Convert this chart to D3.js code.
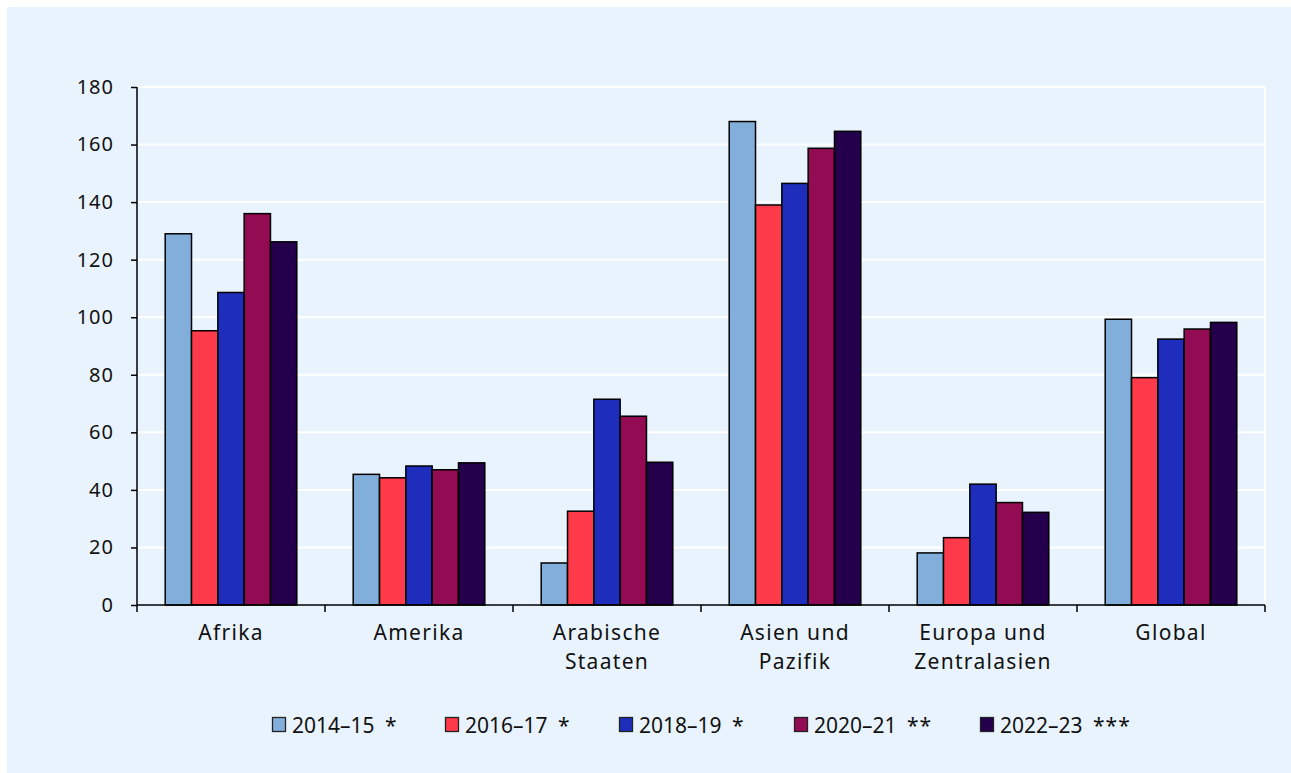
<!DOCTYPE html>
<html>
<head>
<meta charset="utf-8">
<script src="https://cdn.jsdelivr.net/npm/d3@7"></script>
<style>
  html, body { margin: 0; padding: 0; background: #ffffff; }
  svg { display: block; }
  text { font-family: "Noto Sans", "Open Sans", sans-serif; fill: #111; }
</style>
</head>
<body>
<svg id="chart" width="1291" height="773"></svg>
<script>
const categories = ["Afrika", "Amerika", "Arabische\nStaaten", "Asien und\nPazifik", "Europa und\nZentralasien", "Global"];
const seriesNames = ["2014–15", "2016–17", "2018–19", "2020–21", "2022–23"];
const seriesMarks = ["*", "*", "*", "**", "***"];
const s2014 = [129, 45.4, 14.6, 168, 18.1, 99.3];
const s2016 = [95.3, 44.2, 32.6, 139, 23.4, 79];
const s2018 = [108.6, 48.3, 71.5, 146.5, 42, 92.4];
const s2020 = [136, 47, 65.6, 158.7, 35.6, 95.9];
const s2022 = [126.2, 49.4, 49.6, 164.6, 32.2, 98.2];
const yTicks = [0, 20, 40, 60, 80, 100, 120, 140, 160, 180];
const colors = ["#82aedb", "#ff3b4b", "#1f2dbd", "#930b52", "#24004c"];

const series = [s2014, s2016, s2018, s2020, s2022];

(function () {
const svg = d3.select("#chart");
svg.append("rect").attr("x", 7).attr("y", 7).attr("width", 1284).attr("height", 766).attr("fill", "#e9f3fd");

const pLeft = 137, pRight = 1265, pTop = 87, pBottom = 605;
const x = d3.scaleBand().domain(categories).range([pLeft, pRight]).paddingInner(0.3).paddingOuter(0.15);
const x1 = d3.scaleBand().domain(d3.range(series.length)).range([0, x.bandwidth()]);
const y = d3.scaleLinear().domain([0, 180]).range([pBottom, pTop]);

// grid
svg.append("g").selectAll("line").data(yTicks.filter(d => d > 0)).join("line")
  .attr("x1", pLeft).attr("x2", pRight)
  .attr("y1", d => y(d)).attr("y2", d => y(d))
  .attr("stroke", "#ffffff").attr("stroke-width", 2);
svg.append("line").attr("x1", pRight).attr("x2", pRight).attr("y1", pTop).attr("y2", pBottom)
  .attr("stroke", "#ffffff").attr("stroke-width", 2);

// bars
categories.forEach((c, ci) => {
  series.forEach((s, si) => {
    svg.append("rect")
      .attr("x", x(c) + x1(si))
      .attr("y", y(s[ci]))
      .attr("width", x1.bandwidth())
      .attr("height", y(0) - y(s[ci]))
      .attr("fill", colors[si])
      .attr("stroke", "#000")
      .attr("stroke-width", 1.5);
  });
});

// y axis
const yAxis = svg.append("g").attr("transform", `translate(${pLeft},0)`)
  .call(d3.axisLeft(y).tickValues(yTicks).tickSize(6).tickPadding(17));
yAxis.selectAll("text").style("font-size", "20px").style("letter-spacing", "1px")
  .style("font-family", "'Noto Sans', sans-serif").attr("fill", "#111");
yAxis.selectAll("line, path").attr("stroke", "#000").attr("stroke-width", 1.5);
yAxis.select("path").attr("d", `M0,${pTop}V${pBottom}`);

// x axis baseline and ticks at boundaries
svg.append("line").attr("x1", pLeft).attr("x2", pRight).attr("y1", pBottom).attr("y2", pBottom)
  .attr("stroke", "#000").attr("stroke-width", 1.5);
const boundaries = categories.map(c => x(c) - (x.step() - x.bandwidth()) / 2);
boundaries.push(pRight);
svg.append("g").selectAll("line").data(boundaries).join("line")
  .attr("x1", d => d).attr("x2", d => d).attr("y1", pBottom).attr("y2", pBottom + 7)
  .attr("stroke", "#000").attr("stroke-width", 1.5);

// category labels
categories.forEach(c => {
  const lines = c.split("\n");
  const cx = x(c) + x.bandwidth() / 2;
  const t = svg.append("text").attr("x", cx).attr("y", 640)
    .attr("text-anchor", "middle").style("font-size", "21px").style("letter-spacing", "1.3px");
  lines.forEach((l, i) => t.append("tspan").attr("x", cx).attr("dy", i === 0 ? 0 : 29).text(l));
});

// legend
const legendX = [272, 445, 619, 794, 980];
seriesNames.forEach((n, i) => {
  const g = svg.append("g").attr("transform", `translate(${legendX[i]},717)`);
  g.append("rect").attr("x", 0.5).attr("y", 0.5).attr("width", 13).attr("height", 14)
    .attr("fill", colors[i]).attr("stroke", "#222").attr("stroke-width", 1.3);
  g.append("text").attr("x", 20).attr("y", 15.5).style("font-size", "21px").text(n);
  g.append("text").attr("x", 113).attr("y", 15.5).style("font-size", "21px").style("letter-spacing", "1px").text(seriesMarks[i]);
});
})();
</script>
</body>
</html>
